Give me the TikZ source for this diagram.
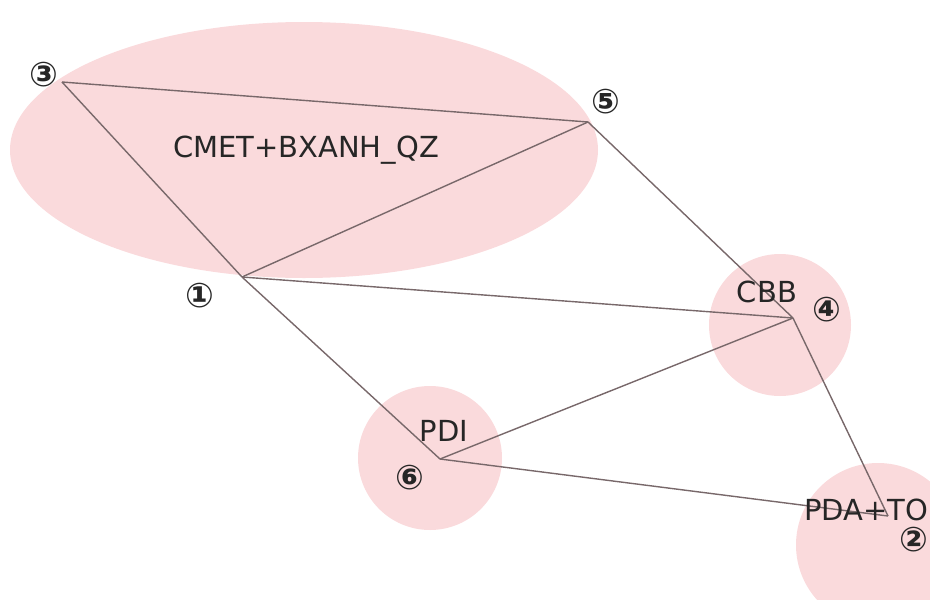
\documentclass[tikz,border=0pt]{standalone}
\usepackage{fontspec}
\setmainfont{DejaVu Sans}
\usetikzlibrary{shapes.geometric}
\definecolor{blob}{RGB}{250,218,220}
\definecolor{edge}{RGB}{120,104,106}
\begin{document}
\begin{tikzpicture}[x=1pt,y=-1pt,
  blobfill/.style={fill=blob,draw=none},
  link/.style={draw=edge,line width=1.4pt},
  num/.style={font=\fontsize{34}{34}\selectfont\bfseries,inner sep=0pt,text=black!85},
  tag/.style={font=\fontsize{29}{29}\selectfont,inner sep=0pt,text=black!85}]
\useasboundingbox (0,0) rectangle (930,600);
% shaded groups
\fill[blobfill] (304,150) ellipse [x radius=294, y radius=128];
\fill[blobfill] (780,325) circle [radius=71];
\fill[blobfill] (430,458) circle [radius=72];
\fill[blobfill] (878,545) circle [radius=82];
% vertices
\coordinate (v3) at (62,82);
\coordinate (v5) at (588,122);
\coordinate (v1) at (242,277);
\coordinate (v4) at (793,318);
\coordinate (v6) at (440,459);
\coordinate (v2) at (888,516);
% edges
\draw[link] (v3) -- (v5);
\draw[link] (v3) -- (v1);
\draw[link] (v1) -- (v5);
\draw[link] (v5) -- (v4);
\draw[link] (v1) -- (v4);
\draw[link] (v1) -- (v6);
\draw[link] (v6) -- (v4);
\draw[link] (v6) -- (v2);
\draw[link] (v4) -- (v2);
% vertex numbers
\node[num] (n3) at (44,75) {③};
\node[num] (n5) at (606,102) {⑤};
\node[num] (n1) at (200,296) {①};
\node[num] (n4) at (827,310) {④};
\node[num] (n6) at (410,478) {⑥};
\node[num] (n2) at (914,540) {②};
% group labels
\node[tag] (g1) at (306,150) {CMET+BXANH\_QZ};
\node[tag] (g2) at (767,292) {CBB};
\node[tag] (g3) at (444,431) {PDI};
\node[tag] (g4) at (866,510) {PDA+TO};
\end{tikzpicture}
\end{document}
